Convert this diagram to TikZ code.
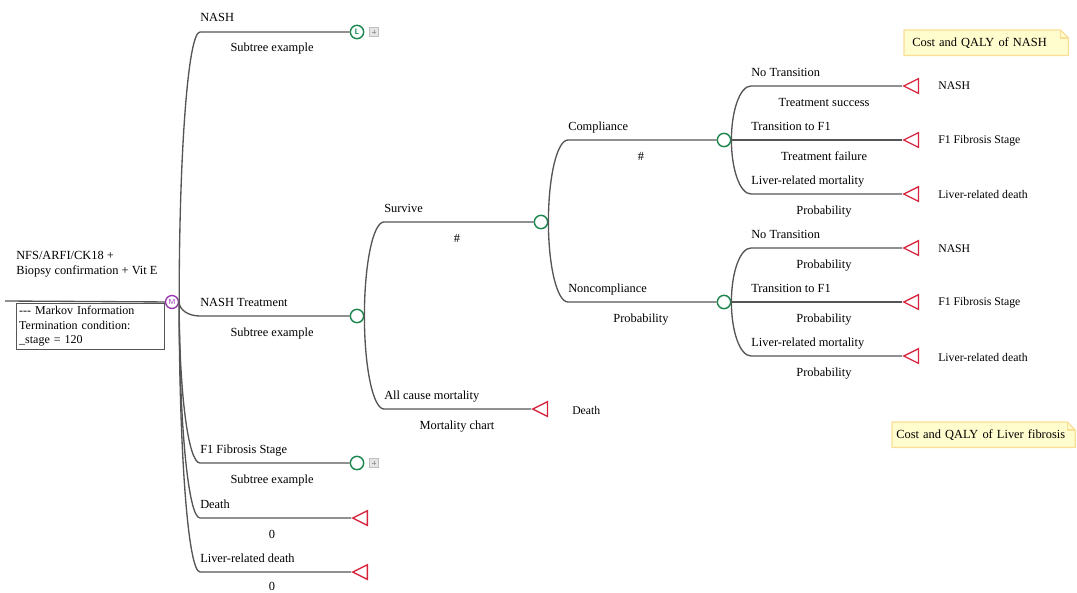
\documentclass[tikz,border=0pt]{standalone}
\usepackage{fontspec}
\setmainfont{Liberation Serif}
\usetikzlibrary{shapes.geometric,calc}

\definecolor{chancegreen}{RGB}{30,135,80}
\definecolor{termred}{RGB}{215,35,60}
\definecolor{markovpurple}{RGB}{150,50,175}
\definecolor{linegray}{RGB}{85,85,85}
\definecolor{notefill}{RGB}{255,252,205}
\definecolor{noteline}{RGB}{250,222,150}

\tikzset{
  branch/.style={draw=linegray,line width=1pt},
  chance/.style={circle,draw=chancegreen,fill=white,line width=1.1pt,minimum size=10pt,inner sep=0pt},
  clock/.style={chance,text=chancegreen,font=\sffamily\bfseries\fontsize{6}{6}\selectfont},
  markov/.style={circle,draw=markovpurple,fill=white,line width=1pt,minimum size=9.75pt,inner sep=0pt,text=markovpurple,font=\sffamily\fontsize{5.5}{5.5}\selectfont},
  term/.style={isosceles triangle,isosceles triangle stretches,shape border rotate=180,draw=termred,fill=white,line width=1pt,minimum width=11pt,minimum height=11pt,inner sep=0pt,anchor=apex},
  plusbox/.style={rectangle,draw=gray!50,fill=gray!20,minimum size=7pt,inner sep=0pt,
    path picture={\draw[gray!75,line width=0.6pt]
      ($(path picture bounding box.west)!.25!(path picture bounding box.east)$) -- ($(path picture bounding box.west)!.75!(path picture bounding box.east)$)
      ($(path picture bounding box.north)!.25!(path picture bounding box.south)$) -- ($(path picture bounding box.north)!.75!(path picture bounding box.south)$);}},
  lbl/.style={anchor=base west,inner sep=0pt,font=\fontsize{9.3}{11}\selectfont},
  prob/.style={anchor=base,inner sep=0pt,font=\fontsize{9.3}{11}\selectfont},
  tlbl/.style={anchor=west,inner sep=0pt,font=\fontsize{8.8}{11}\selectfont},
  infobox/.style={anchor=north west,draw=linegray,line width=0.8pt,align=left,text width=107pt,inner sep=2pt,minimum height=34pt,font=\fontsize{9}{11}\selectfont},
  note/.style={anchor=north west,fill=notefill,align=left,minimum height=18.75pt,inner ysep=0pt,font=\fontsize{9.3}{11}\selectfont}
}

\begin{document}
\begin{tikzpicture}[x=0.75pt,y=0.75pt,yscale=-1,xscale=1]
\useasboundingbox (0,0) rectangle (1077,592);

% Root
\node [markov] (root) at (172,302) {M};
\coordinate (tin) at (5,301);
\draw [branch] (tin) -- (root);
% Text Node
\node [anchor=north west,align=left,inner sep=0pt,font=\fontsize{9.3}{11.25}\selectfont] (title) at (16,251) {NFS/ARFI/CK18 +\\Biopsy confirmation + Vit E};
% Markov Information
\node [infobox] (minfo) at (16,303) {{-}{-}{-} Markov Information\\Termination condition:\\\_stage = 120};

% Level 1 nodes
\node [clock] (nash) at (357,32) {L};
\node [plusbox] (nashplus) at (374,32) {};
\node [chance] (treat) at (357,316) {};
\node [chance] (fib) at (357,463) {};
\node [plusbox] (fibplus) at (374,463) {};
\node [term] (death1) at (351,518) {};
\node [term] (ldeath1) at (351,572) {};

% Connection
\coordinate (s11) at (200,32);
\draw [branch] (root.east) .. controls +(0,-148.5) and +(-12,0) .. (s11) -- (nash);
\coordinate (s12) at (200,316);
\draw [branch] (root.east) .. controls +(0,7.7) and +(-12,0) .. (s12) -- (treat);
\coordinate (s13) at (200,463);
\draw [branch] (root.east) .. controls +(0,88.6) and +(-12,0) .. (s13) -- (fib);
\coordinate (s14) at (200,518);
\draw [branch] (root.east) .. controls +(0,118.8) and +(-12,0) .. (s14) -- (death1);
\coordinate (s15) at (200,572);
\draw [branch] (root.east) .. controls +(0,148.5) and +(-12,0) .. (s15) -- (ldeath1);

% Text Node
\node [lbl] (l11) at (200,22) {NASH};
\node [prob] (p11) at (272,52) {Subtree example};
\node [lbl] (l12) at (200,306) {NASH Treatment};
\node [prob] (p12) at (272,336) {Subtree example};
\node [lbl] (l13) at (200,453) {F1 Fibrosis Stage};
\node [prob] (p13) at (272,483) {Subtree example};
\node [lbl] (l14) at (200,508) {Death};
\node [prob] (p14) at (272,538) {0};
\node [lbl] (l15) at (200,562) {Liver-related death};
\node [prob] (p15) at (272,590) {0};

% Level 2 nodes
\node [chance] (surv) at (541,222) {};
\node [term] (death2) at (531,409) {};

% Connection
\coordinate (s21) at (384,222);
\draw [branch] (treat.east) .. controls +(0,-51.7) and +(-11,0) .. (s21) -- (surv);
\coordinate (s22) at (384,409);
\draw [branch] (treat.east) .. controls +(0,51.2) and +(-11,0) .. (s22) -- (death2);

% Text Node
\node [lbl] (l21) at (384,212) {Survive};
\node [prob] (p21) at (457,242) {\#};
\node [lbl] (l22) at (384,399) {All cause mortality};
\node [prob] (p22) at (457,429) {Mortality chart};
\node [tlbl] (t22) at (572,410) {Death};

% Level 3 nodes
\node [chance] (comp) at (724,140) {};
\node [chance] (ncomp) at (724,302) {};

% Connection
\coordinate (s31) at (568,140);
\draw [branch] (surv.east) .. controls +(0,-45.1) and +(-11,0) .. (s31) -- (comp);
\coordinate (s32) at (568,302);
\draw [branch] (surv.east) .. controls +(0,44) and +(-11,0) .. (s32) -- (ncomp);

% Text Node
\node [lbl] (l31) at (568,130) {Compliance};
\node [prob] (p31) at (641,160) {\#};
\node [lbl] (l32) at (568,292) {Noncompliance};
\node [prob] (p32) at (641,322) {Probability};

% Level 4 nodes
\node [term] (t41) at (902,86) {};
\node [term] (t42) at (902,140) {};
\node [term] (t43) at (902,194) {};
\node [term] (t44) at (902,248) {};
\node [term] (t45) at (902,302) {};
\node [term] (t46) at (902,356) {};

% Connection
\coordinate (s41) at (751,86);
\draw [branch] (comp.east) .. controls +(0,-29.7) and +(-11,0) .. (s41) -- (t41);
\coordinate (s42) at (751,140);
\draw [branch] (comp.east) -- (s42) -- (t42);
\coordinate (s43) at (751,194);
\draw [branch] (comp.east) .. controls +(0,29.7) and +(-11,0) .. (s43) -- (t43);
\coordinate (s44) at (751,248);
\draw [branch] (ncomp.east) .. controls +(0,-29.7) and +(-11,0) .. (s44) -- (t44);
\coordinate (s45) at (751,302);
\draw [branch] (ncomp.east) -- (s45) -- (t45);
\coordinate (s46) at (751,356);
\draw [branch] (ncomp.east) .. controls +(0,29.7) and +(-11,0) .. (s46) -- (t46);

% Text Node
\node [lbl] (l41) at (751,76) {No Transition};
\node [prob] (p41) at (824,106) {Treatment success};
\node [tlbl] (e41) at (938,86) {NASH};
\node [lbl] (l42) at (751,130) {Transition to F1};
\node [prob] (p42) at (824,160) {Treatment failure};
\node [tlbl] (e42) at (938,141) {F1 Fibrosis Stage};
\node [lbl] (l43) at (751,184) {Liver-related mortality};
\node [prob] (p43) at (824,214) {Probability};
\node [tlbl] (e43) at (938,194) {Liver-related death};
\node [lbl] (l44) at (751,238) {No Transition};
\node [prob] (p44) at (824,268) {Probability};
\node [tlbl] (e44) at (938,249) {NASH};
\node [lbl] (l45) at (751,292) {Transition to F1};
\node [prob] (p45) at (824,322) {Probability};
\node [tlbl] (e45) at (938,303) {F1 Fibrosis Stage};
\node [lbl] (l46) at (751,346) {Liver-related mortality};
\node [prob] (p46) at (824,376) {Probability};
\node [tlbl] (e46) at (938,357) {Liver-related death};

% Notes
\node [note,text width=111pt,inner xsep=6pt] (note1) at (904,30) {Cost and QALY of NASH};
\fill [white] ($(note1.north east)+(-8,0)$) -- (note1.north east) -- ($(note1.north east)+(0,8)$) -- cycle;
\draw [noteline,line width=1pt,line join=round] (note1.south west) -- (note1.north west) -- ($(note1.north east)+(-8,0)$) -- ($(note1.north east)+(0,8)$) -- (note1.south east) -- cycle;
\draw [noteline,line width=0.8pt] ($(note1.north east)+(-8,0)$) -- ($(note1.north east)+(-8,8)$) -- ($(note1.north east)+(0,8)$);
\node [note,text width=131pt,inner xsep=3pt] (note2) at (892,422) {Cost and QALY of Liver fibrosis};
\fill [white] ($(note2.north east)+(-8,0)$) -- (note2.north east) -- ($(note2.north east)+(0,8)$) -- cycle;
\draw [noteline,line width=1pt,line join=round] (note2.south west) -- (note2.north west) -- ($(note2.north east)+(-8,0)$) -- ($(note2.north east)+(0,8)$) -- (note2.south east) -- cycle;
\draw [noteline,line width=0.8pt] ($(note2.north east)+(-8,0)$) -- ($(note2.north east)+(-8,8)$) -- ($(note2.north east)+(0,8)$);

\end{tikzpicture}
\end{document}
